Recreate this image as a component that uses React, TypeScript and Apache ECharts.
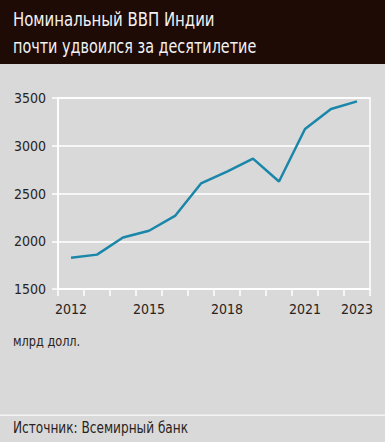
import React, { useEffect, useRef } from "react";
import * as echarts from "echarts";

const years = ["2012", "2013", "2014", "2015", "2016", "2017", "2018", "2019", "2020", "2021", "2022", "2023"];
const gdp = [1828, 1860, 2040, 2110, 2265, 2605, 2730, 2865, 2625, 3175, 3385, 3465];
const shownYears = ["2012", "2015", "2018", "2021", "2023"];
const titleLines = ["Номинальный ВВП Индии", "почти удвоился за десятилетие"];
const unitLabel = "млрд долл.";
const sourceLabel = "Источник: Всемирный банк";

const FONT = "'DejaVu Sans Condensed', 'Roboto', sans-serif";

export default function App() {
  const ref = useRef<HTMLDivElement>(null);
  useEffect(() => {
    document.body.style.margin = "0";
    const chart = echarts.init(ref.current!, null, { renderer: "svg" });
    chart.setOption({
      animation: false,
      backgroundColor: "#d9d9d9",
      textStyle: { fontFamily: FONT },
      grid: { left: 58, right: 15, top: 98, bottom: 153, show: true, borderColor: "#ffffff", borderWidth: 1.5, backgroundColor: "transparent" },
      graphic: [
        { type: "rect", shape: { x: 0, y: 0, width: 385, height: 64 }, style: { fill: "#1f0b06" }, z: 0 },
        { type: "text", x: 13, y: 9, scaleX: 0.83, style: { text: titleLines[0], fill: "#f2f2f2", font: `20px ${FONT}` } },
        { type: "text", x: 13, y: 36, scaleX: 0.8, style: { text: titleLines[1], fill: "#f2f2f2", font: `20px ${FONT}` } },
        { type: "text", x: 13, y: 334, scaleX: 0.9, style: { text: unitLabel, fill: "#2a2320", font: `14px ${FONT}` } },
        { type: "rect", shape: { x: 0, y: 414.5, width: 385, height: 1.5 }, style: { fill: "#f4f4f4" } },
        { type: "text", x: 13, y: 420, scaleX: 0.9, style: { text: sourceLabel, fill: "#2a2320", font: `15px ${FONT}` } },
      ],
      xAxis: {
        type: "category",
        data: years,
        boundaryGap: true,
        axisLine: { lineStyle: { color: "#ffffff", width: 1.5 } },
        axisTick: { show: true, interval: 0, length: 7, lineStyle: { color: "#ffffff", width: 1.5 } },
        axisLabel: {
          interval: (_i: number, v: string) => shownYears.includes(v),
          color: "#2a2320",
          fontSize: 14,
          margin: 13,
          fontFamily: FONT,
        },
        splitLine: { show: false },
      },
      yAxis: {
        type: "value",
        min: 1500,
        max: 3500,
        interval: 500,
        axisLine: { show: true, lineStyle: { color: "#ffffff", width: 1.5 } },
        axisTick: { show: true, length: 6, lineStyle: { color: "#ffffff", width: 1.5 } },
        axisLabel: { color: "#2a2320", fontSize: 14, margin: 12, fontFamily: FONT, formatter: (v: number) => String(v) },
        splitLine: { show: true, lineStyle: { color: "#ffffff", width: 1.5 } },
      },
      series: [
        {
          type: "line",
          data: gdp,
          symbol: "none",
          lineStyle: { color: "#1a86aa", width: 2.5 },
        },
      ],
    });
    return () => chart.dispose();
  }, []);
  return <div ref={ref} style={{ width: 385, height: 442 }} />;
}
